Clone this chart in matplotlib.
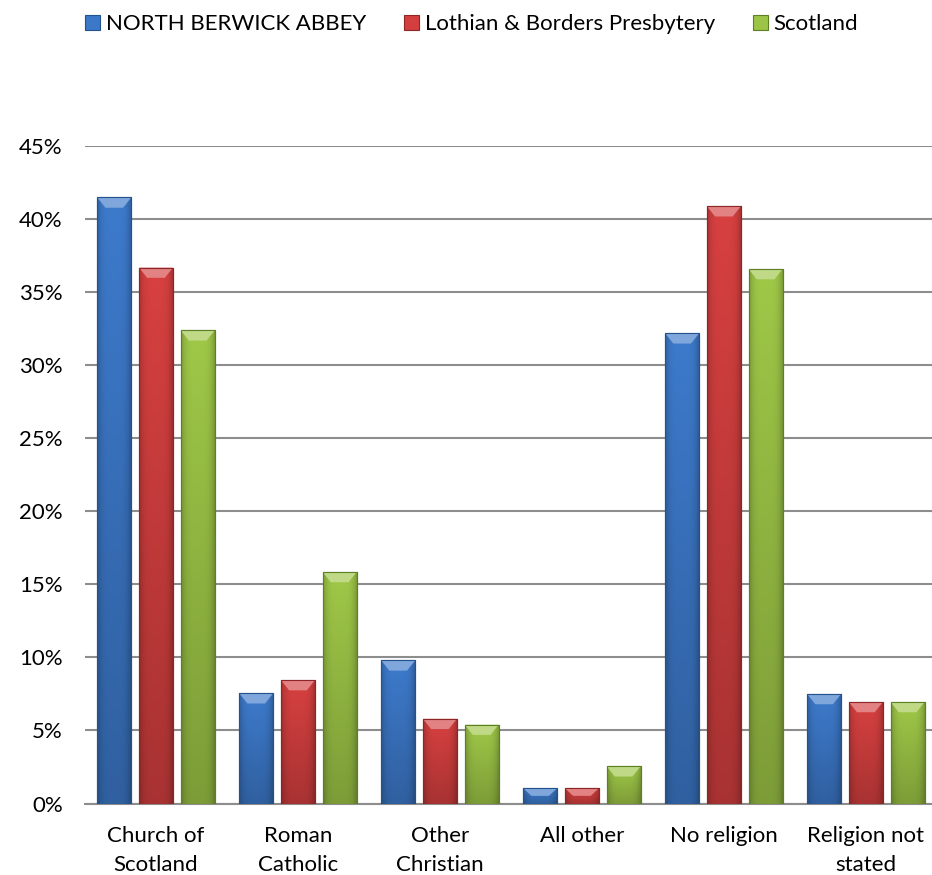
import numpy as np
import matplotlib
matplotlib.use("Agg")
import matplotlib.pyplot as plt
import matplotlib.colors as mcolors
from matplotlib.patches import Patch, Polygon

plt.rcParams['font.family'] = ['Lato', 'DejaVu Sans']

categories = ["Church of\nScotland", "Roman\nCatholic", "Other\nChristian",
              "All other", "No religion", "Religion not\nstated"]
series_names = ["NORTH BERWICK ABBEY", "Lothian & Borders Presbytery", "Scotland"]
north_berwick = [41.5, 7.55, 9.8, 1.05, 32.2, 7.5]
lothian_borders = [36.7, 8.45, 5.8, 1.05, 40.9, 6.95]
scotland = [32.4, 15.85, 5.4, 2.55, 36.6, 6.95]
yticks = [0, 5, 10, 15, 20, 25, 30, 35, 40, 45]

colors = ["#3c78c8", "#d33f3f", "#9cc446"]
edges = ["#24528f", "#8f2626", "#5f7f25"]


def shade_bar(ax, bar, color):
    # fake the excel bevel: gradient body plus a lighter top facet
    x, y = bar.get_x(), bar.get_y()
    w, h = bar.get_width(), bar.get_height()
    base = np.array(mcolors.to_rgb(color))
    u = np.linspace(-1, 1, 64)
    prof = 1.0 - 0.22 * np.abs(u) ** 4
    vert = np.linspace(0.80, 1.02, 64)
    img = base[None, None, :] * prof[None, :, None] * vert[:, None, None]
    img = np.clip(img, 0, 1)
    im = ax.imshow(img, extent=(x, x + w, y, y + h), origin="lower",
                   aspect="auto", interpolation="bilinear", zorder=3)
    im.set_clip_path(bar)
    d = w * 0.24
    dy = min(0.7, h * 0.5)
    top = y + h
    light = np.clip(base + (1 - base) * 0.35, 0, 1)
    ax.add_patch(Polygon([(x, top), (x + w, top), (x + w - d, top - dy), (x + d, top - dy)],
                         closed=True, facecolor=light, edgecolor="none", zorder=4))


fig = plt.figure(figsize=(9.32, 8.75), dpi=100)
ax = fig.add_axes([0.0912, 0.0817, 0.914, 0.751])

xs = np.arange(len(categories))
bw = 0.239
step = 0.294
for i, (vals, c, ec) in enumerate(zip([north_berwick, lothian_borders, scotland], colors, edges)):
    bars = ax.bar(xs + (i - 1) * step, vals, width=bw, color=c, edgecolor=ec,
                  linewidth=0.8, zorder=3)
    for b in bars:
        shade_bar(ax, b, c)
        # redraw outline on top
        ax.add_patch(plt.Rectangle((b.get_x(), 0), b.get_width(), b.get_height(),
                                   facecolor="none", edgecolor=ec, linewidth=0.8, zorder=5))

ax.set_xlim(-0.5, len(categories) - 0.5)
ax.set_ylim(0, 45)
ax.set_yticks(yticks)
ax.set_yticklabels([f"{v}%" for v in yticks])
ax.set_xticks(xs)
ax.set_xticklabels(categories, linespacing=1.6)
ax.tick_params(axis="y", length=0, pad=16, labelsize=16)
ax.tick_params(axis="x", length=0, pad=16, labelsize=16)
ax.yaxis.grid(True, color="#8d8d8d", linewidth=1.5, zorder=0)
ax.set_axisbelow(True)
for s in ["left", "right", "top"]:
    ax.spines[s].set_visible(False)
ax.spines["bottom"].set_color("#8d8d8d")
ax.spines["bottom"].set_linewidth(1.5)

handles = [Patch(facecolor=c, edgecolor=ec, linewidth=0.8) for c, ec in zip(colors, edges)]
fig.legend(handles, series_names, loc="center", bbox_to_anchor=(0.506, 1 - 24 / 875),
           ncol=3, frameon=False, fontsize=16, handlelength=0.68, handleheight=0.68,
           handletextpad=0.25, columnspacing=1.7)

fig.savefig("out.png", dpi=100)
